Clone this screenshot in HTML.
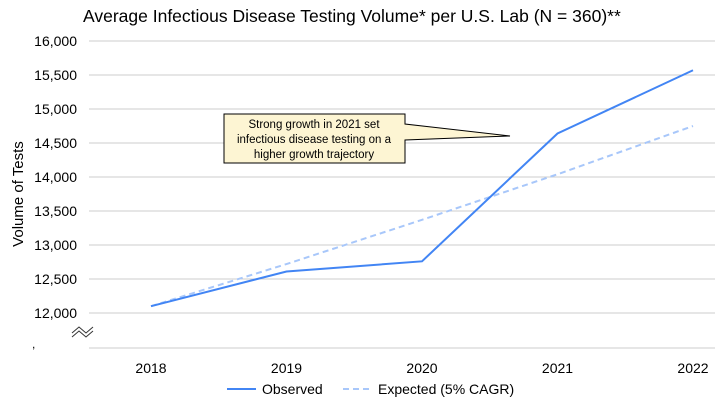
<!DOCTYPE html>
<html><head><meta charset="utf-8"><style>
body{margin:0;background:#fff;}
svg{display:block;font-family:"Liberation Sans",Arial,sans-serif;}
</style></head><body>
<svg id="chart" width="720" height="405" viewBox="0 0 720 405">
<text x="83" y="22" font-size="17.5" fill="#000">Average Infectious Disease Testing Volume* per U.S. Lab (N = 360)**</text>
<text transform="translate(23,194) rotate(-90)" text-anchor="middle" font-size="15" fill="#000">Volume of Tests</text>
<g id="grid"></g>
<g id="ylabels"></g>
<g id="xlabels"></g>
<line x1="89" x2="715" y1="348" y2="348" stroke="#ccc" stroke-width="1"/>
<path d="M72,333 L79,327 L86,333 L93,327 M72,337 L79,331 L86,337 L93,331" fill="none" stroke="#333" stroke-width="1"/>
<text x="32" y="348" font-size="12" fill="#000">,</text>
<g id="series"></g>
<g>
<path d="M224,114 L405,114 L405,124 L510,136 L405,140 L405,163 L224,163 Z" fill="#fdf5d3" stroke="#000" stroke-width="1"/>
<text x="314" y="128" text-anchor="middle" font-size="11.5">Strong growth in 2021 set</text>
<text x="314" y="143" text-anchor="middle" font-size="11.5">infectious disease testing on a</text>
<text x="314" y="158" text-anchor="middle" font-size="11.5">higher growth trajectory</text>
</g>
<g>
<line x1="227" x2="256" y1="389" y2="389" stroke="#4285f4" stroke-width="2"/>
<text x="262" y="394" font-size="14">Observed</text>
<line x1="343" x2="372" y1="389" y2="389" stroke="#a8c7fa" stroke-width="2" stroke-dasharray="6,4"/>
<text x="378" y="394" font-size="14">Expected (5% CAGR)</text>
</g>
</svg>
<script>
const categories=["2018","2019","2020","2021","2022"];
const observed=[12100,12610,12760,14640,15570];
const expected=[12100,12720,13370,14040,14750];
const yTicks=[12000,12500,13000,13500,14000,14500,15000,15500,16000];
const NS="http://www.w3.org/2000/svg";
function y(v){return 41+(16000-v)/500*34;}
function x(i){return 151+i*135.5;}
function mk(tag,attrs,parent){const e=document.createElementNS(NS,tag);for(const k in attrs)e.setAttribute(k,attrs[k]);parent.appendChild(e);return e;}
const grid=document.getElementById('grid'),yl=document.getElementById('ylabels'),xl=document.getElementById('xlabels'),se=document.getElementById('series');
yTicks.forEach(t=>{
 const l=mk('line',{x1:89,x2:715,y1:y(t),y2:y(t),stroke:'#ccc','stroke-width':1},grid);
 
 
 const tx=mk('text',{x:77,y:y(t)+5,'text-anchor':'end','font-size':14},yl);
 tx.textContent=t.toLocaleString('en-US');
 
 
});
categories.forEach((c,i)=>{
 const tx=mk('text',{x:x(i),y:373,'text-anchor':'middle','font-size':14},xl);
 tx.textContent=c;
 
 
});
const pe=mk('polyline',{points:expected.map((v,i)=>x(i)+','+y(v)).join(' '),fill:'none',stroke:'#a8c7fa','stroke-width':2,'stroke-dasharray':'6,4'},se);


const po=mk('polyline',{points:observed.map((v,i)=>x(i)+','+y(v)).join(' '),fill:'none',stroke:'#4285f4','stroke-width':2},se);


</script>
</body></html>
